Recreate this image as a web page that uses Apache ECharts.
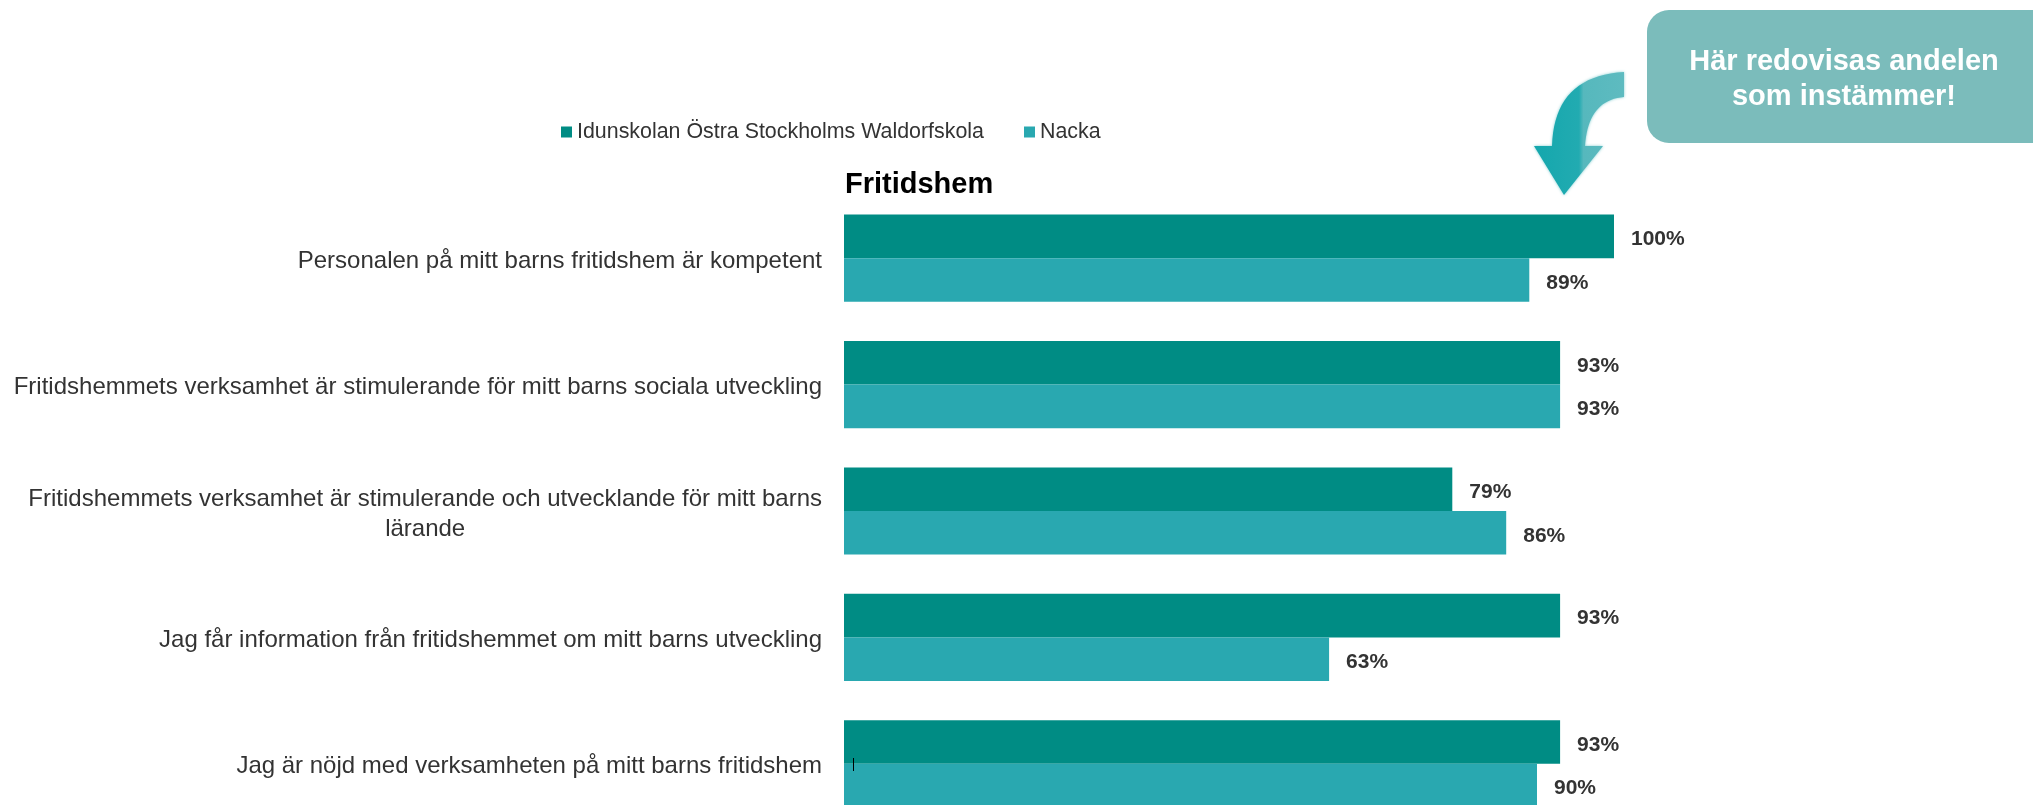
<!DOCTYPE html>
<html>
<head>
<meta charset="utf-8">
<script src="https://cdn.jsdelivr.net/npm/echarts@6/dist/echarts.min.js"></script>
<style>
html,body{margin:0;padding:0;background:#fff;}
#chart{width:2033px;height:805px;}
</style>
</head>
<body>
<div id="chart"></div>
<script>
var categories = [
  "Personalen på mitt barns fritidshem är kompetent",
  "Fritidshemmets verksamhet är stimulerande för mitt barns sociala utveckling",
  "Fritidshemmets verksamhet är stimulerande och utvecklande för mitt barns\nlärande",
  "Jag får information från fritidshemmet om mitt barns utveckling",
  "Jag är nöjd med verksamheten på mitt barns fritidshem"
];
var seriesNames = ["Idunskolan Östra Stockholms Waldorfskola", "Nacka"];
var schoolValues = [100, 93, 79, 93, 93];
var nackaValues = [89, 93, 86, 63, 90];
var chartTitle = "Fritidshem";
var calloutLines = ["Här redovisas andelen", "som instämmer!"];

var FONT = "'Liberation Sans', Arial, sans-serif";
var chart = echarts.init(document.getElementById('chart'), null, {renderer: 'canvas'});

// decorative curved arrow outline
function quad(p0, p1, p2, n) {
  var pts = [];
  for (var i = 0; i <= n; i++) {
    var t = i / n, u = 1 - t;
    pts.push([u*u*p0[0] + 2*u*t*p1[0] + t*t*p2[0], u*u*p0[1] + 2*u*t*p1[1] + t*t*p2[1]]);
  }
  return pts;
}
var arrowPts = quad([1624,72],[1554,76],[1552,146],20)
  .concat([[1534,146],[1564,195],[1603,146],[1585,146]])
  .concat(quad([1585,146],[1588,100],[1624,97],20).slice(1));

var labelStyle = {
  show: true,
  position: 'right',
  distance: 17,
  offset: [0, 3],
  formatter: '{c}%',
  color: '#333',
  fontFamily: FONT,
  fontWeight: 'bold',
  fontSize: 21
};

chart.setOption({
  animation: false,
  backgroundColor: '#fff',
  title: {
    text: chartTitle,
    left: 845,
    top: 170,
    padding: 0,
    textStyle: {fontFamily: FONT, fontWeight: 'bold', fontSize: 29, color: '#000'}
  },
  legend: {
    data: seriesNames,
    left: 561,
    top: 121,
    padding: 0,
    itemWidth: 11,
    itemHeight: 11,
    itemGap: 40,
    icon: 'rect',
    textStyle: {fontFamily: FONT, fontSize: 21.4, color: '#333', lineHeight: 22}
  },
  grid: {left: 844, right: 419, top: 195, height: 632, containLabel: false, outerBoundsMode: 'none'},
  xAxis: {
    type: 'value',
    min: 0,
    max: 100,
    show: false
  },
  yAxis: {
    type: 'category',
    data: categories,
    inverse: true,
    axisLine: {show: false},
    axisTick: {show: false},
    splitLine: {show: false},
    axisLabel: {
      margin: 22,
      color: '#333',
      fontFamily: FONT,
      fontSize: 24,
      lineHeight: 30,
      padding: [6, 0, 0, 0],
      formatter: function (v) {
        return v.split('\n').map(function (s) { return '{c|' + s + '}'; }).join('\n');
      },
      rich: {c: {align: 'center', fontFamily: FONT, fontSize: 24, lineHeight: 30, color: '#333'}}
    }
  },
  series: [
    {
      name: seriesNames[0],
      type: 'bar',
      data: schoolValues,
      barGap: '0%',
      barCategoryGap: '31%',
      itemStyle: {color: '#008C84'},
      label: labelStyle
    },
    {
      name: seriesNames[1],
      type: 'bar',
      data: nackaValues,
      barGap: '0%',
      barCategoryGap: '31%',
      itemStyle: {color: '#29A8B0'},
      label: labelStyle
    }
  ],
  graphic: [
    {
      type: 'rect',
      z: 100,
      shape: {x: 1647, y: 10, width: 420, height: 133, r: 22},
      style: {fill: '#7BBCBB'}
    },
    {
      type: 'text',
      z: 101,
      x: 1844,
      y: 79,
      style: {
        text: calloutLines.join('\n'),
        fill: '#fff',
        font: 'bold 29px ' + FONT,
        lineHeight: 35,
        align: 'center',
        verticalAlign: 'middle'
      }
    },
    {
      type: 'polygon',
      z: 100,
      shape: {points: arrowPts},
      style: {
        fill: {
          type: 'linear', x: 0, y: 0, x2: 1, y2: 0,
          colorStops: [
            {offset: 0, color: '#14A7AD'},
            {offset: 0.5, color: '#22ABB1'},
            {offset: 0.55, color: '#56B8BD'},
            {offset: 1, color: '#5EBBC0'}
          ]
        },
        shadowBlur: 3,
        shadowColor: 'rgba(40,170,175,0.6)'
      }
    },
    {
      type: 'rect',
      z: 100,
      shape: {x: 853, y: 758, width: 1, height: 13},
      style: {fill: '#000'}
    }
  ]
});
</script>
</body>
</html>
